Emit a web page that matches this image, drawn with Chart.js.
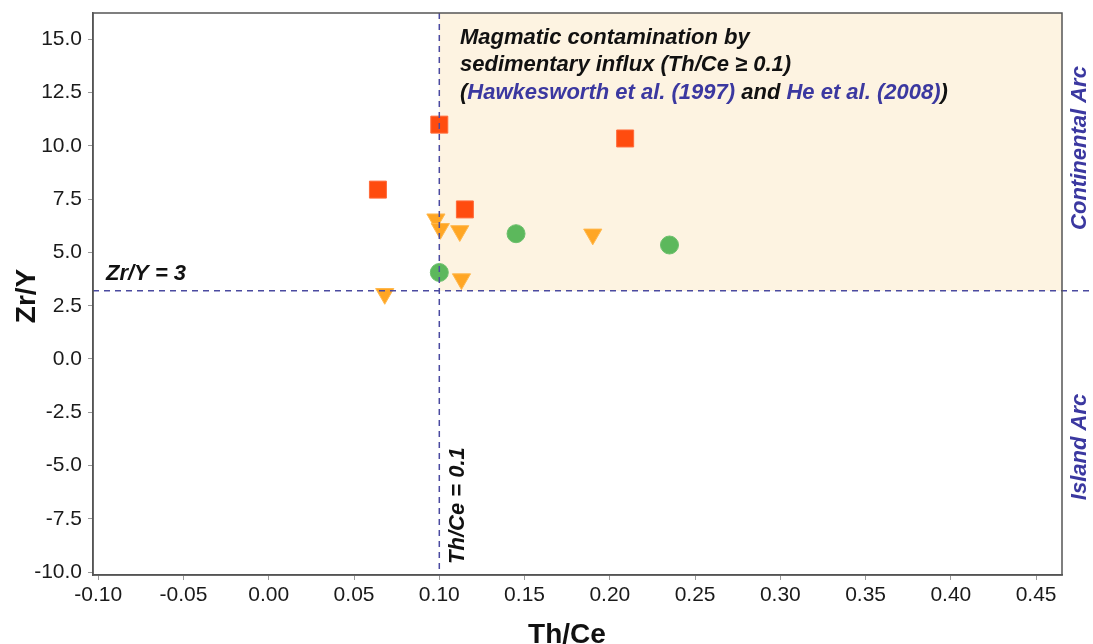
<!DOCTYPE html>
<html>
<head>
<meta charset="utf-8">
<script src="https://cdn.jsdelivr.net/npm/chart.js@4"></script>
<style>
  html, body { margin: 0; padding: 0; background: #fff; }
  canvas { display: block; }
</style>
</head>
<body>
<canvas id="chart" width="1093" height="644"></canvas>
<script>
// ======================
// DATA
// ======================
const squareX = [0.100, 0.209, 0.064, 0.115];
const squareY = [11.0, 10.35, 7.95, 7.02];

const triangleX = [0.098, 0.1006, 0.112, 0.190, 0.113, 0.068];
const triangleY = [6.56, 6.11, 6.01, 5.85, 3.75, 3.06];

const circleX = [0.145, 0.235, 0.100];
const circleY = [5.88, 5.35, 4.06];

const xTicks = [-0.10, -0.05, 0.00, 0.05, 0.10, 0.15, 0.20, 0.25, 0.30, 0.35, 0.40, 0.45];
const yTicks = [-10.0, -7.5, -5.0, -2.5, 0.0, 2.5, 5.0, 7.5, 10.0, 12.5, 15.0];

const thCeLimit = 0.1;
const zrYLimit = 3.2;

const toPoints = (xs, ys) => xs.map((x, i) => ({ x: x, y: ys[i] }));

const FONT = "'Liberation Sans', Arial, sans-serif";
const DASH_COLOR = "#4a4aa0";
const REF_COLOR = "#3b38a0";

// ======================
// SHADE + GUIDE LINES + TEXT
// ======================
const overlay = {
  id: "overlay",
  beforeDatasetsDraw(chart) {
    const { ctx, chartArea, scales } = chart;
    const x0 = scales.x.getPixelForValue(thCeLimit);
    const y0 = scales.y.getPixelForValue(zrYLimit);
    ctx.save();
    ctx.fillStyle = "#fdf3e1";
    ctx.fillRect(x0, chartArea.top, chartArea.right - x0, y0 - chartArea.top);
    ctx.restore();
  },
  afterDatasetsDraw(chart) {
    const { ctx, chartArea, scales } = chart;
    const x0 = scales.x.getPixelForValue(thCeLimit);
    const y0 = scales.y.getPixelForValue(zrYLimit);
    ctx.save();
    ctx.strokeStyle = DASH_COLOR;
    ctx.lineWidth = 1.5;
    ctx.setLineDash([6, 5]);
    ctx.beginPath();
    ctx.moveTo(x0, chartArea.top);
    ctx.lineTo(x0, chartArea.bottom);
    ctx.moveTo(chartArea.left, y0);
    ctx.lineTo(chart.width, y0);
    ctx.stroke();
    ctx.setLineDash([]);

    // frame (top + right)
    ctx.strokeStyle = "#555";
    ctx.lineWidth = 1.5;
    ctx.strokeRect(chartArea.left, chartArea.top, chartArea.right - chartArea.left, chartArea.bottom - chartArea.top);

    // annotation box text
    ctx.font = "bold italic 22px " + FONT;
    ctx.textBaseline = "alphabetic";
    ctx.textAlign = "left";
    ctx.fillStyle = "#111";
    const tx = 460;
    ctx.fillText("Magmatic contamination by", tx, 43.5);
    ctx.fillText("sedimentary influx (Th/Ce \u2265 0.1)", tx, 71);
    const parts = [
      ["(", "#111"],
      ["Hawkesworth et al. (1997)", REF_COLOR],
      [" and ", "#111"],
      ["He et al. (2008)", REF_COLOR],
      [")", "#111"]
    ];
    let px = tx;
    parts.forEach(p => {
      ctx.fillStyle = p[1];
      ctx.fillText(p[0], px, 98.5);
      px += ctx.measureText(p[0]).width;
    });

    ctx.fillStyle = "#111";
    ctx.fillText("Zr/Y = 3", 106, 280);

    // rotated labels
    ctx.save();
    ctx.translate(464, 564);
    ctx.rotate(-Math.PI / 2);
    ctx.fillText("Th/Ce = 0.1", 0, 0);
    ctx.restore();

    ctx.fillStyle = REF_COLOR;
    ctx.textAlign = "center";
    ctx.save();
    ctx.translate(1086, 148);
    ctx.rotate(-Math.PI / 2);
    ctx.fillText("Continental Arc", 0, 0);
    ctx.restore();
    ctx.save();
    ctx.translate(1086, 447);
    ctx.rotate(-Math.PI / 2);
    ctx.fillText("Island Arc", 0, 0);
    ctx.restore();

    // axis titles
    ctx.fillStyle = "#111";
    ctx.font = "bold 28px " + FONT;
    ctx.fillText("Th/Ce", 567, 643);
    ctx.save();
    ctx.translate(35, 296);
    ctx.rotate(-Math.PI / 2);
    ctx.fillText("Zr/Y", 0, 0);
    ctx.restore();

    ctx.restore();
  }
};

new Chart(document.getElementById("chart"), {
  type: "scatter",
  data: {
    datasets: [
      {
        label: "squares",
        data: toPoints(squareX, squareY),
        pointStyle: "rect",
        pointRadius: 12,
        backgroundColor: "#ff4c0f",
        borderColor: "#ff6a3a",
        borderWidth: 1
      },
      {
        label: "triangles",
        data: toPoints(triangleX, triangleY),
        pointStyle: "triangle",
        rotation: 180,
        pointRadius: 10.5,
        backgroundColor: "#ffa624",
        borderColor: "#ffb84d",
        borderWidth: 1
      },
      {
        label: "circles",
        data: toPoints(circleX, circleY),
        pointStyle: "circle",
        pointRadius: 9,
        backgroundColor: "#5cb85c",
        borderColor: "#6cc06c",
        borderWidth: 1
      }
    ]
  },
  options: {
    responsive: false,
    animation: false,
    devicePixelRatio: 1,
    layout: { padding: { left: 0, right: 31, top: 7, bottom: 0 } },
    plugins: {
      legend: { display: false },
      tooltip: { enabled: false }
    },
    scales: {
      x: {
        type: "linear",
        min: -0.1031,
        max: 0.4652,
        afterBuildTicks: s => { s.ticks = xTicks.map(v => ({ value: v })); },
        afterFit: s => { s.height = 69; s.paddingLeft = 0; s.paddingRight = 0; },
        ticks: {
          color: "#1a1a1a",
          font: { family: FONT, size: 21 },
          padding: 3,
          maxRotation: 0,
          callback: v => v.toFixed(2)
        },
        grid: { drawOnChartArea: false, tickLength: 5, tickColor: "#999" },
        border: { color: "#555", width: 1.5 }
      },
      y: {
        type: "linear",
        min: -10.14,
        max: 16.24,
        afterBuildTicks: s => { s.ticks = yTicks.map(v => ({ value: v })); },
        afterFit: s => { s.width = 93; s.paddingTop = 0; s.paddingBottom = 0; },
        ticks: {
          color: "#1a1a1a",
          font: { family: FONT, size: 21 },
          padding: 6,
          callback: v => v.toFixed(1)
        },
        grid: { drawOnChartArea: false, tickLength: 5, tickColor: "#999" },
        border: { color: "#555", width: 1.5 }
      }
    }
  },
  plugins: [overlay]
});
</script>
</body>
</html>
